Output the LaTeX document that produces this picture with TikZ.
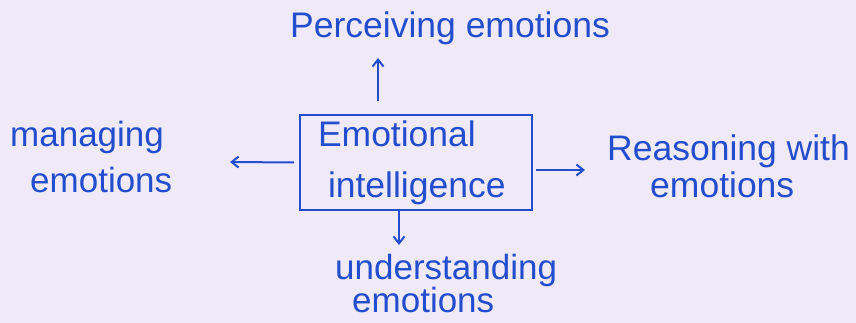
\documentclass[tikz,border=0pt]{standalone}
\usepackage{fontspec}
\setmainfont{Liberation Sans}
\usetikzlibrary{arrows.meta}
\definecolor{ink}{RGB}{34,78,205}
\definecolor{paper}{RGB}{240,233,248}
\begin{document}
\begin{tikzpicture}[x=1pt,y=-1pt,
  lbl/.style={inner sep=0pt, text=ink, align=left},
  arr/.style={draw=ink, line width=2pt, -{Straight Barb[length=7pt,width=11pt]}},
  eibox/.style={draw=ink, line width=2pt, text=ink, align=left, text width=196pt,
     inner xsep=18pt, inner ysep=0pt, minimum height=95pt}]
\fill[paper] (0,0) rectangle (856,323);
\useasboundingbox (0,0) rectangle (856,323);
\node[eibox, font=\fontsize{35.5}{51}\selectfont] (ei) at (416,162.5)
  {Emotional\\\hspace*{10pt}intelligence};
\node[lbl, anchor=base west, font=\fontsize{35.5}{46}\selectfont] (perc) at (290,38) {Perceiving emotions};
\node[lbl, anchor=north west, font=\fontsize{35}{46}\selectfont] (manage) at (10,121)
  {managing\\\hspace*{20pt}emotions};
\node[lbl, anchor=north west, font=\fontsize{35.5}{37}\selectfont] (reason) at (607,135)
  {Reasoning with\\\hspace*{43pt}emotions};
\node[lbl, anchor=north west, font=\fontsize{35}{33}\selectfont] (under) at (335,254)
  {understanding\\\hspace*{17pt}emotions};
\coordinate (upend) at (378,58);
\coordinate (leftend) at (230,162);
\coordinate (rightend) at (585,170);
\coordinate (downend) at (399,245);
\draw[arr] ([xshift=-38pt,yshift=13pt]ei.north) -- (upend);
\draw[arr] ([xshift=-5pt]ei.west) -- (leftend);
\draw[arr] ([xshift=3pt,yshift=-7.5pt]ei.east) -- (rightend);
\draw[arr] ([xshift=-17pt]ei.south) -- (downend);
\end{tikzpicture}
\end{document}
